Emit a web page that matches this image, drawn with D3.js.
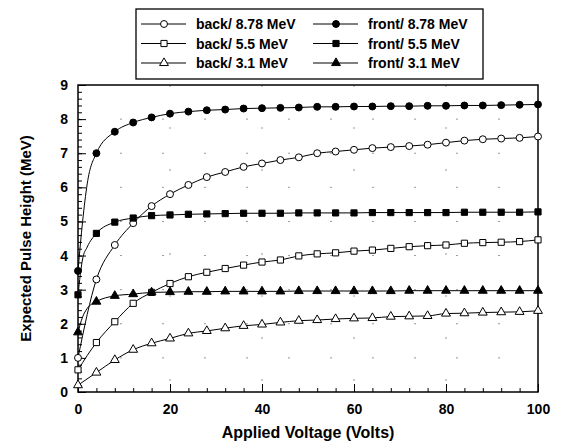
<!DOCTYPE html>
<html>
<head>
<meta charset="utf-8">
<script src="https://cdn.jsdelivr.net/npm/d3@7"></script>
<style>
  body { margin: 0; background: #fff; }
  svg { font-family: "Liberation Sans", Arial, sans-serif; font-weight: bold; }
</style>
</head>
<body>
<div id="chart"></div>
<script>
let width = 565
let height = 445

// voltages (front curves have extra knots near 0, drawn without markers)
const voltsFront = [0, 1, 2, 4, 8, 12, 16, 20, 24, 28, 32, 36, 40, 44, 48, 52, 56, 60, 64, 68, 72, 76, 80, 84, 88, 92, 96, 100]
const voltsBack = [0, 4, 8, 12, 16, 20, 24, 28, 32, 36, 40, 44, 48, 52, 56, 60, 64, 68, 72, 76, 80, 84, 88, 92, 96, 100]

const front878 = [3.55, 5.0, 6.1, 7.0, 7.63, 7.9, 8.05, 8.16, 8.22, 8.26, 8.28, 8.31, 8.32, 8.33, 8.34, 8.36, 8.36, 8.37, 8.37, 8.38, 8.38, 8.39, 8.39, 8.4, 8.4, 8.41, 8.42, 8.43]
const front55 = [2.85, 3.9, 4.25, 4.65, 4.98, 5.1, 5.17, 5.19, 5.21, 5.22, 5.23, 5.24, 5.24, 5.24, 5.25, 5.25, 5.25, 5.25, 5.26, 5.26, 5.26, 5.26, 5.26, 5.27, 5.27, 5.27, 5.27, 5.28]
const front31 = [1.75, 2.2, 2.45, 2.65, 2.82, 2.87, 2.92, 2.93, 2.94, 2.94, 2.95, 2.95, 2.95, 2.95, 2.96, 2.96, 2.96, 2.96, 2.96, 2.96, 2.97, 2.97, 2.97, 2.97, 2.97, 2.97, 2.97, 2.97]

const back878 = [1.0, 3.3, 4.31, 4.95, 5.45, 5.8, 6.07, 6.3, 6.45, 6.6, 6.7, 6.8, 6.88, 7.0, 7.05, 7.1, 7.15, 7.18, 7.21, 7.25, 7.31, 7.37, 7.41, 7.43, 7.45, 7.49]
const back55 = [0.65, 1.45, 2.06, 2.6, 2.92, 3.18, 3.38, 3.51, 3.62, 3.72, 3.81, 3.87, 3.99, 4.05, 4.08, 4.13, 4.16, 4.21, 4.26, 4.29, 4.31, 4.36, 4.38, 4.39, 4.41, 4.46]
const back31 = [0.2, 0.57, 0.94, 1.24, 1.43, 1.57, 1.72, 1.79, 1.87, 1.94, 1.98, 2.04, 2.09, 2.11, 2.14, 2.16, 2.17, 2.21, 2.22, 2.23, 2.3, 2.31, 2.33, 2.34, 2.35, 2.38]

const xTicks = [0, 20, 40, 60, 80, 100]
const yTicks = [0, 1, 2, 3, 4, 5, 6, 7, 8, 9]

const series = [
    { name: 'back/ 8.78 MeV', volts: voltsBack, vals: back878, shape: d3.symbolCircle, filled: false },
    { name: 'back/ 5.5 MeV', volts: voltsBack, vals: back55, shape: d3.symbolSquare, filled: false },
    { name: 'back/ 3.1 MeV', volts: voltsBack, vals: back31, shape: d3.symbolTriangle, filled: false },
    { name: 'front/ 8.78 MeV', volts: voltsFront, vals: front878, shape: d3.symbolCircle, filled: true },
    { name: 'front/ 5.5 MeV', volts: voltsFront, vals: front55, shape: d3.symbolSquare, filled: true },
    { name: 'front/ 3.1 MeV', volts: voltsFront, vals: front31, shape: d3.symbolTriangle, filled: true }
]

let padding = { left: 78, right: 27, top: 85, bottom: 53 }
let font = '"Liberation Sans", Arial, sans-serif'

let svg = d3.select('#chart').append('svg')
    .attr('width', width)
    .attr('height', height)

let x = d3.scaleLinear().domain([0, 100]).range([padding.left, width - padding.right])
let y = d3.scaleLinear().domain([0, 9]).range([height - padding.bottom, padding.top])

// sparse dotted grid, like the scan
let grid = svg.append('g').attr('stroke', '#999').attr('stroke-width', 1).attr('stroke-dasharray', '2,40')
grid.selectAll('line.gx').data(xTicks.slice(1, -1)).join('line')
    .attr('x1', d => x(d)).attr('x2', d => x(d))
    .attr('y1', y(9)).attr('y2', y(0))
grid.selectAll('line.gy').data(yTicks.slice(1, -1)).join('line')
    .attr('x1', x(0)).attr('x2', x(100))
    .attr('y1', d => y(d)).attr('y2', d => y(d))

// minor ticks
svg.append('g')
    .attr('transform', `translate(0,${y(0)})`)
    .call(d3.axisBottom(x).tickValues(d3.range(0, 101, 4)).tickSize(-4).tickFormat(''))
    .call(g => g.select('.domain').remove())
svg.append('g')
    .attr('transform', `translate(${x(0)},0)`)
    .call(d3.axisLeft(y).tickValues(d3.range(0, 9.01, 0.2)).tickSize(-4).tickFormat(''))
    .call(g => g.select('.domain').remove())

// major ticks + labels
svg.append('g')
    .attr('transform', `translate(0,${y(0)})`)
    .call(d3.axisBottom(x).tickValues(xTicks).tickSizeInner(-8).tickSizeOuter(0).tickPadding(12))
    .call(g => g.select('.domain').remove())
    .call(g => g.selectAll('text').attr('font-size', 14).attr('font-weight', 'bold').attr('fill', '#000')
        .attr('font-family', font))
svg.append('g')
    .attr('transform', `translate(${x(0)},0)`)
    .call(d3.axisLeft(y).tickValues(yTicks).tickSizeInner(-8).tickSizeOuter(0).tickPadding(10))
    .call(g => g.select('.domain').remove())
    .call(g => g.selectAll('text').attr('font-size', 14).attr('font-weight', 'bold').attr('fill', '#000')
        .attr('font-family', font))

// frame
svg.append('rect')
    .attr('x', x(0)).attr('y', y(9))
    .attr('width', x(100) - x(0)).attr('height', y(0) - y(9))
    .attr('fill', 'none').attr('stroke', '#000').attr('stroke-width', 1.5)

let line = d3.line().curve(d3.curveMonotoneX)
let symSize = s => s.shape === d3.symbolTriangle ? 34 : 38

let plot = svg.append('g')
series.forEach(s => {
    let pts = s.volts.map((v, i) => [x(v), y(s.vals[i])])
    plot.append('path')
        .attr('d', line(pts))
        .attr('fill', 'none')
        .attr('stroke', '#000')
        .attr('stroke-width', 1)
})
series.forEach(s => {
    let sym = d3.symbol().type(s.shape).size(symSize(s))
    plot.append('g').selectAll('path')
        .data(s.volts.map((v, i) => [v, s.vals[i]]).filter(d => d[0] % 4 === 0))
        .join('path')
        .attr('d', sym)
        .attr('transform', d => `translate(${x(d[0])},${y(d[1])})`)
        .attr('fill', s.filled ? '#000' : '#fff')
        .attr('stroke', '#000')
        .attr('stroke-width', 1)
})

// axis titles
svg.append('text')
    .attr('x', (x(0) + x(100)) / 2).attr('y', 438)
    .attr('text-anchor', 'middle')
    .attr('font-size', 16)
    .text('Applied Voltage (Volts)')
svg.append('text')
    .attr('transform', `translate(31,${(y(0) + y(9)) / 2}) rotate(-90)`)
    .attr('text-anchor', 'middle')
    .attr('font-size', 15)
    .text('Expected Pulse Height (MeV)')

// legend
let legend = svg.append('g')
legend.append('rect')
    .attr('x', 136).attr('y', 9).attr('width', 347).attr('height', 70)
    .attr('fill', '#fff').attr('stroke', '#000').attr('stroke-width', 1.3)
series.forEach((s, i) => {
    let col = Math.floor(i / 3), row = i % 3
    let lx = col === 0 ? 141 : 313
    let ly = 24 + row * 19.5
    let g = legend.append('g')
    g.append('line').attr('x1', lx).attr('x2', lx + 45).attr('y1', ly).attr('y2', ly)
        .attr('stroke', '#000').attr('stroke-width', 1)
    g.append('path')
        .attr('d', d3.symbol().type(s.shape).size(symSize(s)))
        .attr('transform', `translate(${lx + 23},${ly})`)
        .attr('fill', s.filled ? '#000' : '#fff').attr('stroke', '#000')
    g.append('text')
        .attr('x', lx + 55).attr('y', ly + 5)
        .attr('font-size', 14)
        .text(s.name)
})
</script>
</body>
</html>
